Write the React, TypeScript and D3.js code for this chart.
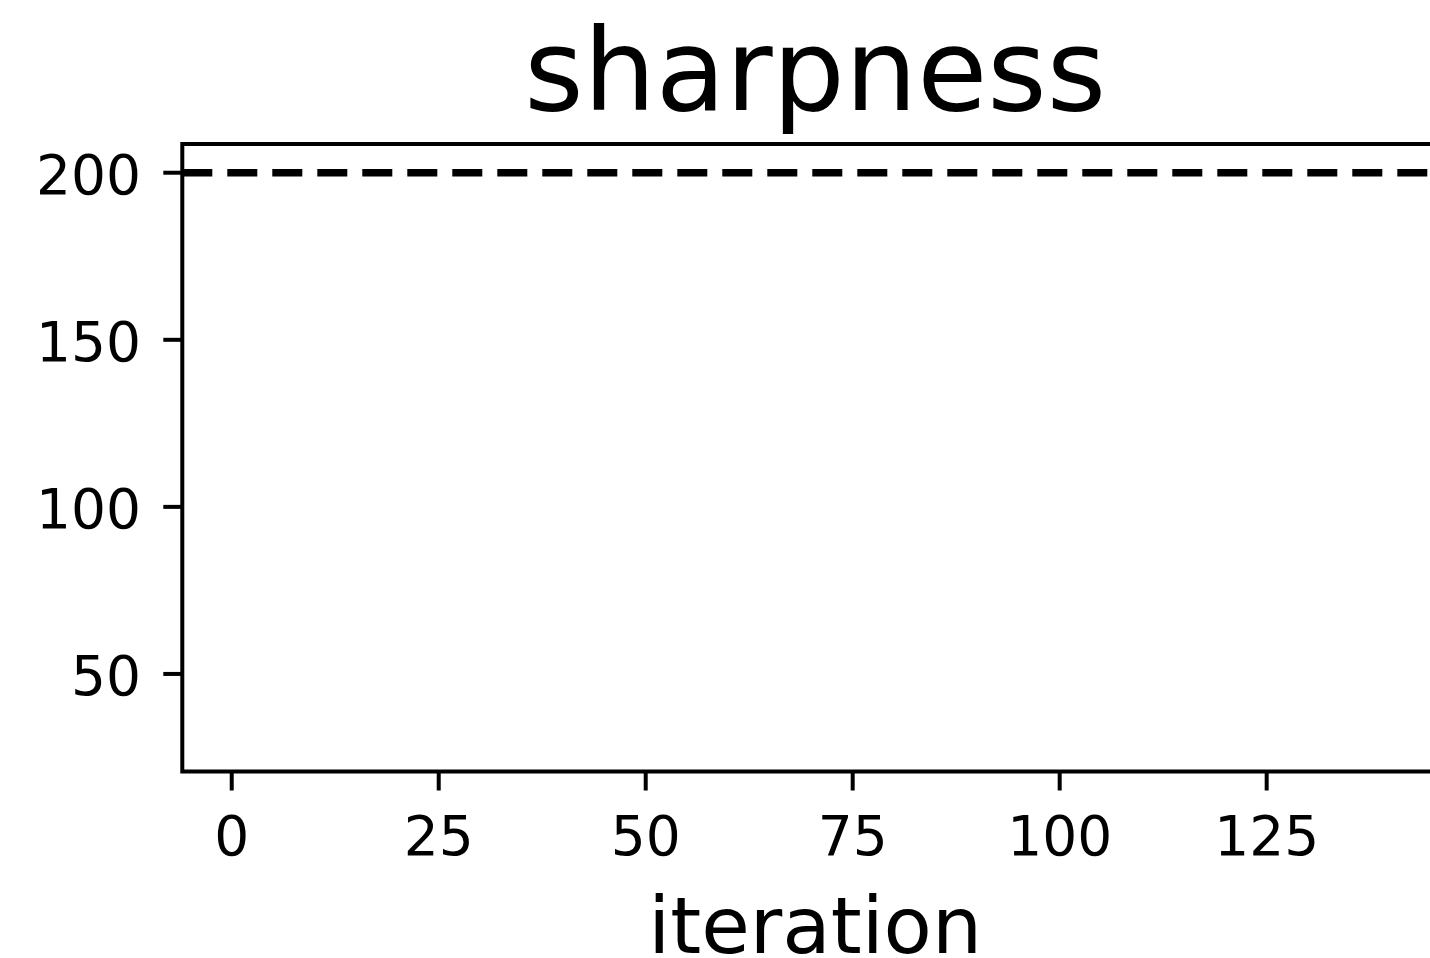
import { useEffect, useRef } from 'react';
import * as d3 from 'd3';

// threshold line (2 / lr) drawn dashed across the plot
const thresholdValues = [200];
const xTicks = [0, 25, 50, 75, 100, 125];
const yTicks = [50, 100, 150, 200];
const xDomain: [number, number] = [-5.97, 146.9];
const yDomain: [number, number] = [20.8, 208.6];

const W = 1430;
const H = 958;
const FONT = 'DejaVu Sans';

export default function App() {
  const svgRef = useRef<SVGSVGElement>(null);

  useEffect(() => {
    if (!svgRef.current) return;
    const svg = d3.select(svgRef.current);
    svg.selectAll('*').remove();

    const left = 182.3;
    const right = 1448;
    const top = 144;
    const bottom = 771.5;

    const x = d3.scaleLinear().domain(xDomain).range([left, right]);
    const y = d3.scaleLinear().domain(yDomain).range([bottom, top]);

    svg.append('rect').attr('width', W).attr('height', H).attr('fill', '#ffffff');

    // dashed threshold line
    svg
      .selectAll('.thresh')
      .data(thresholdValues)
      .enter()
      .append('line')
      .attr('x1', x(xDomain[0]))
      .attr('x2', x(xDomain[1]))
      .attr('y1', (d) => y(d))
      .attr('y2', (d) => y(d))
      .attr('stroke', '#000')
      .attr('stroke-width', 7.5)
      .attr('stroke-dasharray', '30,15');

    // spines
    const spine = 'M' + left + ',' + top + 'H' + right + 'V' + bottom + 'H' + left + 'Z';
    svg
      .append('path')
      .attr('d', spine)
      .attr('fill', 'none')
      .attr('stroke', '#000')
      .attr('stroke-width', 4)
      .attr('stroke-linejoin', 'miter');

    // y ticks
    svg
      .selectAll('.ytick')
      .data(yTicks)
      .enter()
      .append('line')
      .attr('x1', left - 19)
      .attr('x2', left)
      .attr('y1', (d) => y(d))
      .attr('y2', (d) => y(d))
      .attr('stroke', '#000')
      .attr('stroke-width', 4);

    svg
      .selectAll('.ylabel')
      .data(yTicks)
      .enter()
      .append('text')
      .attr('x', 141)
      .attr('y', (d) => y(d) + 21)
      .attr('text-anchor', 'end')
      .attr('font-family', FONT)
      .attr('font-size', 55)
      .attr('fill', '#000')
      .text((d) => String(d));

    // x ticks
    svg
      .selectAll('.xtick')
      .data(xTicks)
      .enter()
      .append('line')
      .attr('x1', (d) => x(d))
      .attr('x2', (d) => x(d))
      .attr('y1', bottom)
      .attr('y2', bottom + 19)
      .attr('stroke', '#000')
      .attr('stroke-width', 4);

    svg
      .selectAll('.xlabel')
      .data(xTicks)
      .enter()
      .append('text')
      .attr('x', (d) => x(d))
      .attr('y', 855)
      .attr('text-anchor', 'middle')
      .attr('font-family', FONT)
      .attr('font-size', 55)
      .attr('fill', '#000')
      .text((d) => String(d));

    // title + axis label
    const cx = (left + right) / 2;
    svg
      .append('text')
      .attr('x', cx)
      .attr('y', 110)
      .attr('text-anchor', 'middle')
      .attr('font-family', FONT)
      .attr('font-size', 114)
      .attr('fill', '#000')
      .text('sharpness');

    svg
      .append('text')
      .attr('x', cx)
      .attr('y', 953)
      .attr('text-anchor', 'middle')
      .attr('font-family', FONT)
      .attr('font-size', 79)
      .attr('fill', '#000')
      .text('iteration');
  }, []);

  return (
    <svg
      ref={svgRef}
      width={W}
      height={H}
      style={{ position: 'absolute', left: 0, top: 0, overflow: 'hidden' }}
    />
  );
}
